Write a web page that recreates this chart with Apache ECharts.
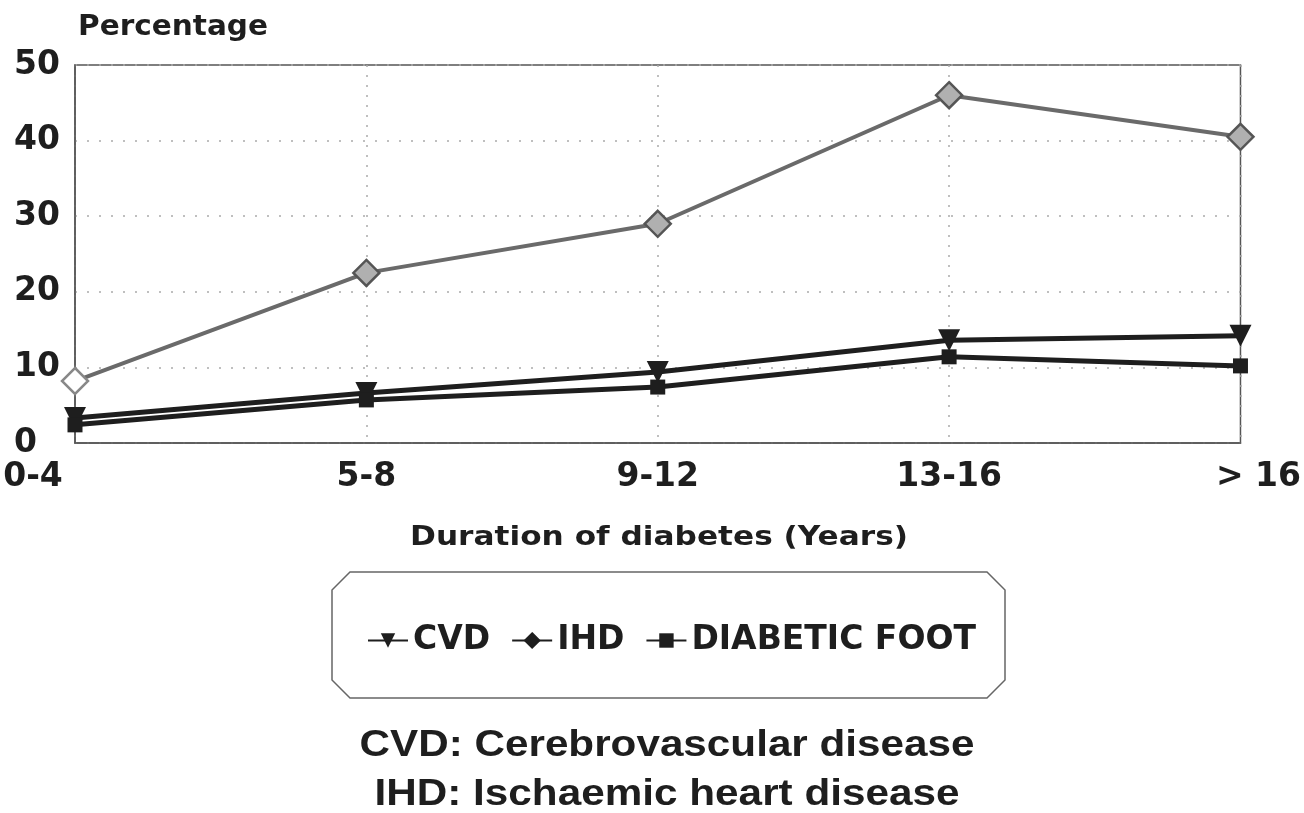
<!DOCTYPE html>
<html><head><meta charset="utf-8">
<script src="https://cdn.jsdelivr.net/npm/echarts@6/dist/echarts.min.js"></script>
<style>html,body{margin:0;padding:0;background:#fff}#c{width:1304px;height:813px}</style>
</head><body><div id="c"></div>
<script>
var categories = ['0-4', '5-8', '9-12', '13-16', '> 16'];
var cvd = [3.3, 6.6, 9.4, 13.6, 14.2];
var ihd = [8.2, 22.5, 29, 46, 40.5];
var foot = [2.4, 5.7, 7.4, 11.4, 10.2];
var yTicks = [0, 10, 20, 30, 40, 50];
var seriesNames = ['CVD', 'IHD', 'DIABETIC FOOT'];
var yTitle = 'Percentage';
var xTitle = 'Duration of diabetes (Years)';
var notes = ['CVD: Cerebrovascular disease', 'IHD: Ischaemic heart disease'];

var F = '"DejaVu Sans", "Liberation Sans", Arial, sans-serif';
var FA = '"Liberation Sans", Arial, sans-serif';
var INK = '#1e1e1e';

var mctx = document.createElement('canvas').getContext('2d');
function fitText(text, cx, cy, size, targetW, align, fam) {
  fam = fam || F;
  mctx.font = 'bold ' + size + 'px ' + fam;
  var w = mctx.measureText(text).width;
  return {
    type: 'text', x: cx, y: cy, scaleX: targetW / w, z: 10,
    style: { text: text, fontSize: size, fontWeight: 'bold', fontFamily: fam, fill: INK,
      align: align || 'center', verticalAlign: 'middle' }
  };
}

var chart = echarts.init(document.getElementById('c'));
chart.setOption({
  backgroundColor: '#fff',
  animation: false,
  grid: { left: 75, right: 61, top: 65, bottom: 370, show: true, borderColor: '#555', borderWidth: 1.5 },
  xAxis: {
    type: 'category', data: categories, boundaryGap: false,
    axisLine: { lineStyle: { color: '#555', width: 1.5 } },
    axisTick: { show: false },
    axisLabel: {
      fontFamily: F, fontWeight: 'bold', fontSize: 33, color: INK, margin: 18,
      formatter: function (v, i) { return i === 0 ? '{a|' + v + '}' : (i === 4 ? '{b|' + v + '}' : v); },
      rich: {
        a: { fontFamily: F, fontWeight: 'bold', fontSize: 33, color: INK, padding: [0, 84, 0, 0] },
        b: { fontFamily: F, fontWeight: 'bold', fontSize: 33, color: INK, padding: [0, 0, 0, 36] }
      }
    },
    splitLine: { show: true, lineStyle: { type: [2, 8], color: '#aaa', width: 1.5 } }
  },
  yAxis: {
    type: 'value', min: 0, max: 50, interval: 10,
    axisLine: { show: true, lineStyle: { color: '#555', width: 1.5 } },
    axisTick: { show: false },
    axisLabel: { fontFamily: F, fontWeight: 'bold', fontSize: 33, color: INK, margin: 61, align: 'left',
      formatter: function (v) { return yTicks.indexOf(v) >= 0 ? String(v) : ''; } },
    splitLine: { show: true, lineStyle: { type: [2, 10], color: '#aaa', width: 1.5 } }
  },
  legend: {
    top: 619, left: 362, itemGap: 21, itemWidth: 40, itemHeight: 18,
    textStyle: { fontFamily: F, fontWeight: 'bold', fontSize: 33, color: INK },
    data: [
      { name: seriesNames[0] },
      { name: seriesNames[1], itemStyle: { color: INK, borderColor: INK }, lineStyle: { color: INK } },
      { name: seriesNames[2] }
    ]
  },
  graphic: [
    {
      type: 'polygon', z: -1,
      shape: { points: [[350, 572], [987, 572], [1005, 590], [1005, 680], [987, 698], [350, 698], [332, 680], [332, 590]] },
      style: { fill: '#fff', stroke: '#666', lineWidth: 1.5 }
    },
    fitText(yTitle, 78, 28, 28, 190, 'left'),
    fitText(xTitle, 659, 538, 27, 498),
    fitText(notes[0], 667, 746, 36, 615, 'center', FA),
    fitText(notes[1], 667, 795, 36, 585, 'center', FA)
  ],
  series: [
    { name: seriesNames[0], type: 'line', data: cvd, symbol: 'triangle', symbolRotate: 180, symbolSize: 22,
      lineStyle: { color: INK, width: 5 }, itemStyle: { color: INK } },
    { name: seriesNames[1], type: 'line', symbol: 'diamond', symbolSize: 26,
      data: ihd.map(function (v, i) { return i === 0 ? { value: v, itemStyle: { color: '#fff', borderColor: '#888' } } : v; }),
      lineStyle: { color: '#6a6a6a', width: 4 }, itemStyle: { color: '#b0b0b0', borderColor: '#555', borderWidth: 2.5 } },
    { name: seriesNames[2], type: 'line', data: foot, symbol: 'rect', symbolSize: 15,
      lineStyle: { color: INK, width: 5 }, itemStyle: { color: INK } }
  ]
});
</script></body></html>
